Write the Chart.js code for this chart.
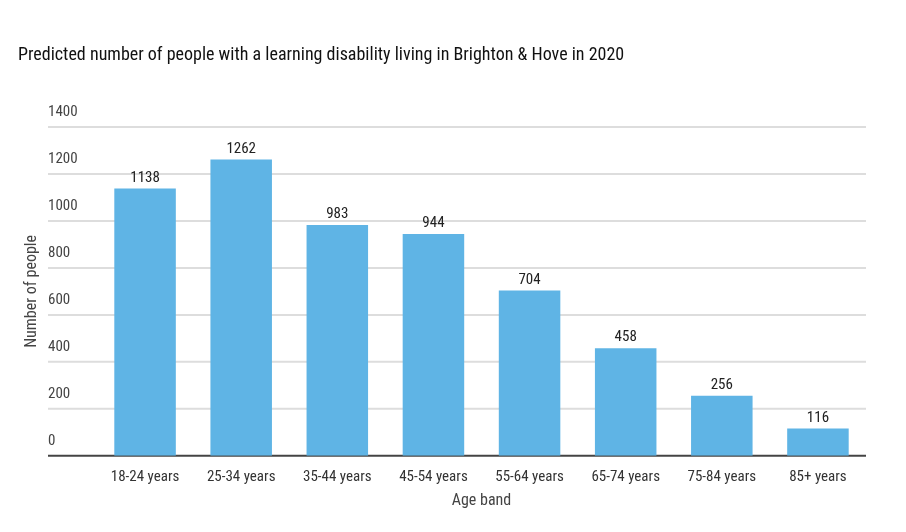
<!DOCTYPE html><html><head><script src="https://cdn.jsdelivr.net/npm/chart.js@4"></script>
<style>body{margin:0;background:#fff}#w{width:906px;height:532px}</style></head><body><div id="w"><canvas id="c"></canvas></div>
<script>
const categories=["18-24 years","25-34 years","35-44 years","45-54 years","55-64 years","65-74 years","75-84 years","85+ years"];
const values=[1138,1262,983,944,704,458,256,116];
const yTicks=[0,200,400,600,800,1000,1200,1400];
const F="'Roboto Condensed','Liberation Sans Narrow',Roboto,sans-serif";
const plug={id:'p',
beforeDatasetsDraw(ch){const c=ch.ctx,y=ch.scales.y,a=ch.chartArea;c.save();
yTicks.forEach(v=>{const py=y.getPixelForValue(v);c.strokeStyle=v===0?'#444':'#ddd';c.lineWidth=2;c.beginPath();c.moveTo(48,py);c.lineTo(a.right,py);c.stroke();
c.fillStyle='#444';c.font='15px '+F;c.textAlign='left';c.textBaseline='bottom';c.fillText(String(v),48,py-7);});
c.fillStyle='#111';c.font='18px '+F;c.textBaseline='middle';c.fillText('Predicted number of people with a learning disability living in Brighton & Hove in 2020',18,55);
c.translate(32,(a.top+a.bottom)/2);c.rotate(-Math.PI/2);c.textAlign='center';c.fillStyle='#444';c.font='16px '+F;c.fillText('Number of people',0,0);
c.restore();},
afterDatasetsDraw(ch){const c=ch.ctx;c.save();c.fillStyle='#222';c.font='15px '+F;c.textAlign='center';c.textBaseline='bottom';
ch.getDatasetMeta(0).data.forEach((b,i)=>c.fillText(values[i],b.x,b.y-3));c.restore();}};
new Chart(document.getElementById('c'),{type:'bar',data:{labels:categories,datasets:[{data:values,backgroundColor:'#5fb4e5',barPercentage:0.64,categoryPercentage:1}]},
options:{responsive:true,maintainAspectRatio:false,animation:false,
layout:{padding:{left:89,right:40,top:127,bottom:17}},
plugins:{legend:{display:false},tooltip:{enabled:false},title:{display:false}},
scales:{x:{grid:{display:false},border:{display:false},ticks:{color:'#333',font:{family:F,size:15},padding:4},
title:{display:true,text:'Age band',color:'#444',font:{family:F,size:16},padding:{top:2}}},
y:{min:0,max:1400,grid:{display:false},border:{display:false},ticks:{display:false,stepSize:200}}}},plugins:[plug]});
</script></body></html>
